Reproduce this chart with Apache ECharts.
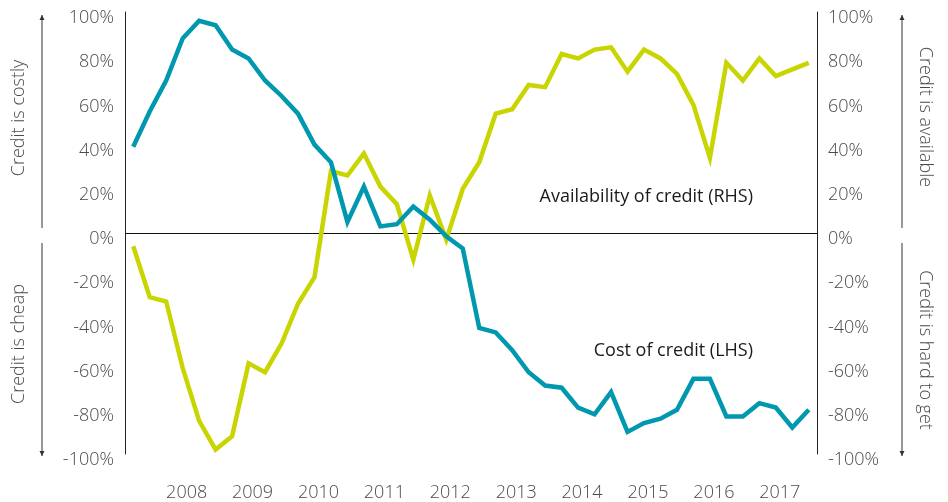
<!DOCTYPE html>
<html>
<head>
<meta charset="utf-8">
<script src="https://cdn.jsdelivr.net/npm/echarts@6/dist/echarts.min.js"></script>
<style>
  html, body { margin: 0; padding: 0; background: #fff; }
  #chart { width: 948px; height: 502px; }
</style>
</head>
<body>
<div id="chart"></div>
<script>
// quarterly survey readings, 2007 Q3 - 2017 Q4
const quarters = []
for (let y = 2007; y <= 2017; y++) {
  for (let q = 1; q <= 4; q++) {
    if (y === 2007 && q < 3) continue
    quarters.push(y + ' Q' + q)
  }
}

// cost of credit, left axis (%)
const costOfCredit = [39, 55, 69, 88, 96, 94, 83, 79, 69, 62, 54, 40, 32, 5,
  21, 3, 4, 12, 6, -1.5, -7, -43, -45, -53, -63, -69, -70, -79,
  -82, -72, -90, -86, -84, -80, -66, -66, -83, -83, -77, -79, -88, -80]

// availability of credit, right axis (%)
const availability = [-6, -29, -31, -61, -85, -98, -92, -59, -63, -50, -32, -20, 28, 26,
  36, 21, 13, -12, 17, -3, 20, 32, 54, 56, 67, 66, 81, 79,
  83, 84, 73, 83, 79, 72, 58, 34, 77, 69, 79, 71, 74, 77]

const chart = echarts.init(document.getElementById('chart'))

const FONT = '"Open Sans", "DejaVu Sans", sans-serif'
const tickLabel = {
  fontFamily: FONT,
  fontSize: 18,
  fontWeight: 300,
  color: '#4a4a4a',
}

// arrow + rotated caption beside each axis
function sideArrow(x, y1, y2, up) {
  const tipY = up ? y1 : y2
  const d = up ? 1 : -1
  return [
    { type: 'line', silent: true, shape: { x1: x, y1: y1, x2: x, y2: y2 }, style: { stroke: '#333', lineWidth: 1 } },
    { type: 'polygon', silent: true, shape: { points: [[x, tipY], [x - 2.5, tipY + 5 * d], [x + 2.5, tipY + 5 * d]] }, style: { fill: '#333' } },
  ]
}
function sideText(text, x, y, rot) {
  return {
    type: 'text', silent: true, x: x, y: y, rotation: rot,
    style: { text: text, fontFamily: FONT, fontSize: 18, fontWeight: 300, fill: '#4a4a4a', align: 'center', verticalAlign: 'middle' },
  }
}

const options = {
  animation: false,
  grid: {
    left: 125,
    right: 131,
    top: 12,
    bottom: 48,
    containLabel: false,
  },
  xAxis: {
    type: 'category',
    data: quarters,
    boundaryGap: true,
    axisLine: { show: false },
    axisTick: { show: false },
    splitLine: { show: false },
    axisLabel: {
      ...tickLabel,
      margin: 30,
      padding: [0, 0, 0, 8],
      interval: (idx, val) => val.endsWith('Q2'),
      formatter: (val) => val.slice(0, 4),
    },
  },
  yAxis: [
    {
      type: 'value',
      min: -100,
      max: 100,
      interval: 20,
      position: 'left',
      axisLine: { show: true, lineStyle: { color: '#222', width: 1 } },
      axisTick: { show: false },
      splitLine: { show: false },
      axisLabel: { ...tickLabel, margin: 11, verticalAlign: 'top', lineHeight: 12, formatter: '{value}%' },
    },
    {
      type: 'value',
      min: -100,
      max: 100,
      interval: 20,
      position: 'right',
      axisLine: { show: true, lineStyle: { color: '#222', width: 1 } },
      axisTick: { show: false },
      splitLine: { show: false },
      axisLabel: { ...tickLabel, margin: 11, verticalAlign: 'top', lineHeight: 12, formatter: '{value}%' },
    },
  ],
  series: [
    {
      name: 'Availability of credit (RHS)',
      type: 'line',
      yAxisIndex: 1,
      data: availability,
      showSymbol: false,
      lineStyle: { color: '#c9d500', width: 4.5, join: 'miter' },
      itemStyle: { color: '#c9d500' },
      z: 2,
    },
    {
      name: 'Cost of credit (LHS)',
      type: 'line',
      yAxisIndex: 0,
      data: costOfCredit,
      showSymbol: false,
      lineStyle: { color: '#0098ae', width: 4.5, join: 'miter' },
      itemStyle: { color: '#0098ae' },
      z: 3,
      markLine: {
        silent: true,
        symbol: 'none',
        label: { show: false },
        lineStyle: { color: '#111', width: 1, type: 'solid' },
        data: [{ yAxis: 0 }],
        z: 1,
      },
    },
  ],
  graphic: [
    ...sideArrow(42, 15, 228, true),
    ...sideArrow(42, 243, 456, false),
    ...sideArrow(902, 15, 228, true),
    ...sideArrow(902, 243, 456, false),
    sideText('Credit is costly', 19, 118, Math.PI / 2),
    sideText('Credit is cheap', 19, 344, Math.PI / 2),
    sideText('Credit is available', 925, 117, -Math.PI / 2),
    sideText('Credit is hard to get', 925, 350, -Math.PI / 2),
    {
      type: 'text', silent: true, x: 753, y: 197,
      style: { text: 'Availability of credit (RHS)', fontFamily: FONT, fontSize: 18, fill: '#1a1a1a', align: 'right', verticalAlign: 'middle' },
    },
    {
      type: 'text', silent: true, x: 753, y: 351,
      style: { text: 'Cost of credit (LHS)', fontFamily: FONT, fontSize: 18, fill: '#1a1a1a', align: 'right', verticalAlign: 'middle' },
    },
  ],
}

chart.setOption(options, true)
</script>
</body>
</html>
